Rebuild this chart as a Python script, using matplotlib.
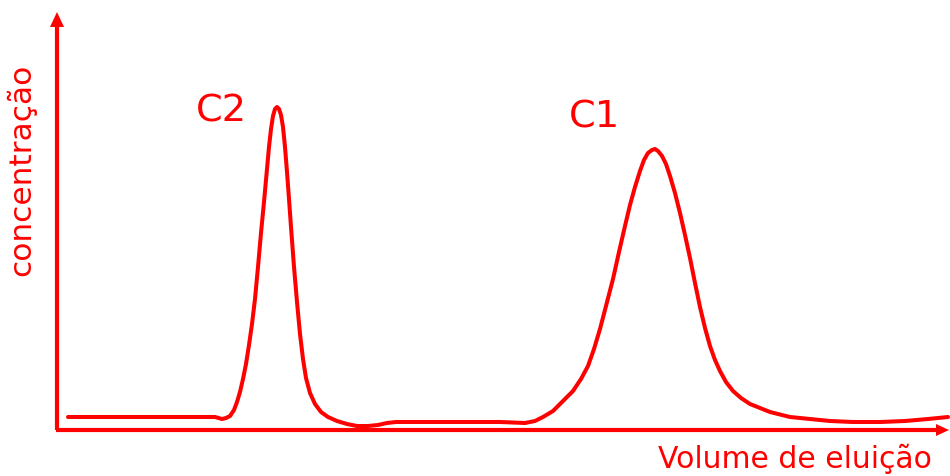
import matplotlib
matplotlib.use("Agg")
import matplotlib.pyplot as plt
import numpy as np

# Elution volume (arbitrary units) and curve height (picture rows, converted below)
volume = [68, 120, 180, 215, 222, 226, 230, 234, 237, 240, 243, 246, 249, 252, 255, 258,
          261, 264, 267, 269, 271, 273, 275, 277, 279, 281, 283, 285, 287, 289, 291, 294,
          297, 300, 303, 306, 310, 315, 321, 328, 337, 347, 357, 368, 378, 387, 396, 420,
          460, 500, 525, 535, 543, 553, 563, 573, 581, 588, 594, 600, 606, 613, 619, 625,
          630, 635, 640, 644, 648, 652, 655, 658, 662, 666, 670, 675, 680, 685, 690, 695,
          700, 705, 710, 715, 720, 726, 733, 741, 750, 760, 770, 790, 810, 830, 853, 880,
          905, 928, 948]
peak_height_px = [418, 418, 418, 418, 420, 419, 417, 411, 403, 393, 380, 365, 346, 325, 300, 268,
                  234, 203, 170, 148, 130, 117, 110, 108, 110, 116, 128, 148, 173, 200, 228, 268,
                  303, 335, 360, 379, 394, 405, 413, 418, 422, 425, 427, 427, 426, 424, 423, 423,
                  423, 423, 424, 422, 418, 412, 402, 392, 380, 367, 350, 330, 307, 280, 253, 227,
                  206, 188, 172, 161, 154, 151, 150, 152, 157, 165, 177, 194, 214, 236, 259, 284,
                  308, 329, 347, 361, 372, 383, 392, 399, 405, 409, 413, 418, 420, 422, 423, 423,
                  422, 420, 418]
concentration = [431 - v for v in peak_height_px]

peak_labels = ["C2", "C1"]
peak_label_pos = [(221, 320), (594, 314)]
xlabel = "Volume de eluição"
ylabel = "concentração"

RED = "#ff0000"
plt.rcParams['font.family'] = ['DejaVu Sans']

fig = plt.figure(figsize=(9.5, 4.77), dpi=100)
ax = fig.add_axes([0, 0, 1, 1])
ax.set_xlim(0, 950)
ax.set_ylim(-46, 431)
ax.axis('off')

ax.plot(volume, concentration, color=RED, lw=2.9, solid_capstyle='round',
        solid_joinstyle='round')

# axes with arrows
ax.plot([57, 57], [0, 405], color=RED, lw=3, solid_capstyle='butt')
ax.plot([56, 936], [0, 0], color=RED, lw=3, solid_capstyle='butt')
ax.fill([50, 64, 57], [403, 403, 418], color=RED, lw=0)
ax.fill([936, 936, 949], [6, -6, 0], color=RED, lw=0)

for lab, (x, y) in zip(peak_labels, peak_label_pos):
    ax.text(x, y, lab, color=RED, fontsize=27.5, ha='center', va='center')

ax.text(658, -37, xlabel, color=RED, fontsize=21.5, ha='left', va='baseline')
ax.text(21, 261, ylabel, color=RED, fontsize=22.5, rotation=90, ha='center', va='center')

fig.savefig("out.png", dpi=100)
